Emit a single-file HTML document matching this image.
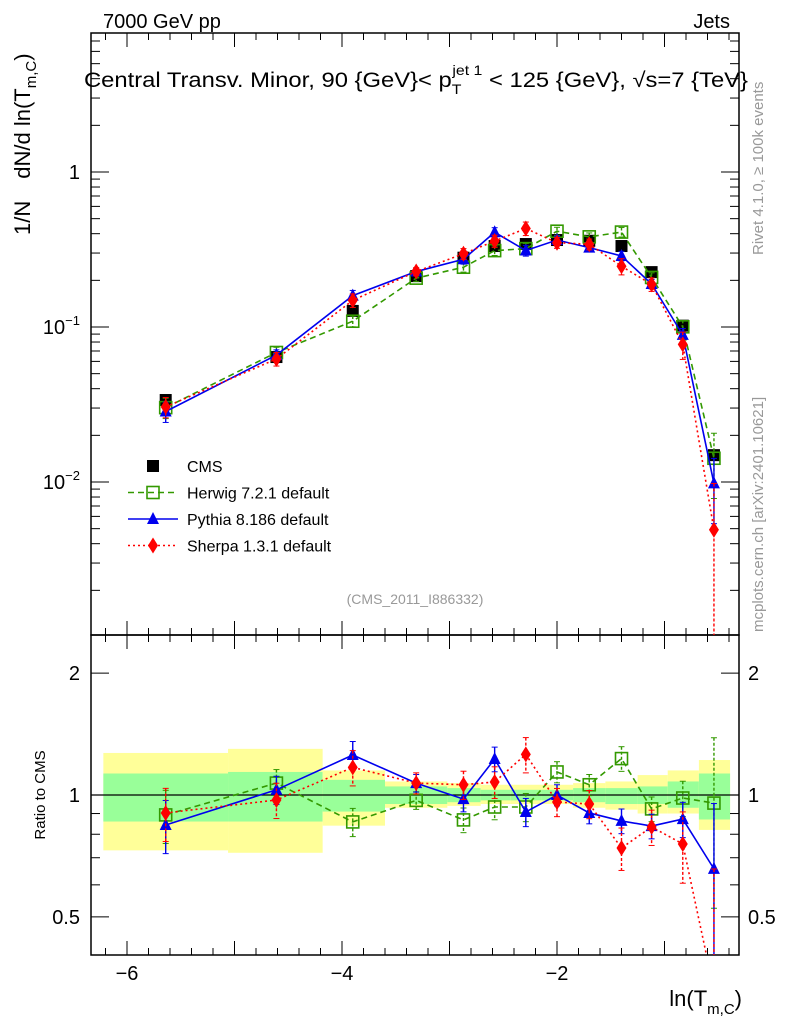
<!DOCTYPE html>
<html><head><meta charset="utf-8"><style>
html,body{margin:0;background:#fff;overflow:hidden;width:786px;height:1024px}
svg{display:block;font-family:"Liberation Sans",sans-serif}
</style></head><body>
<svg id="c" width="786" height="1024" viewBox="0 0 786 1024" xmlns="http://www.w3.org/2000/svg" overflow="hidden">
<text x="103" y="28" font-size="20">7000 GeV pp</text>
<text x="730" y="28" font-size="20" text-anchor="end">Jets</text>
<text x="84" y="87" font-size="21" textLength="664" lengthAdjust="spacingAndGlyphs">Central Transv. Minor, 90 {GeV}&lt; p<tspan dy="7" font-size="14">T</tspan><tspan dy="-19" dx="-8" font-size="14">jet 1</tspan><tspan dy="12"> &lt; 125 {GeV}, √s=7 {TeV}</tspan></text>
<text transform="translate(30,235) rotate(-90)" font-size="22">1/N<tspan dx="22">dN/d ln(T</tspan><tspan dy="6" font-size="15">m,C</tspan><tspan dy="-6">)</tspan></text>
<text transform="translate(763,255) rotate(-90)" font-size="15" fill="#999">Rivet 4.1.0, ≥ 100k events</text>
<text transform="translate(763,632) rotate(-90)" font-size="15" fill="#999">mcplots.cern.ch [arXiv:2401.10621]</text>
<text x="415" y="604" font-size="14" fill="#999" text-anchor="middle">(CMS_2011_I886332)</text>
<text transform="translate(45,795) rotate(-90)" font-size="15" text-anchor="middle">Ratio to CMS</text>
<text x="742" y="1006" font-size="22" text-anchor="end">ln(T<tspan dy="8" font-size="15">m,C</tspan><tspan dy="-8">)</tspan></text>
<g id="g"></g>
</svg>
<script>
const xs=[-5.64,-4.61,-3.90,-3.31,-2.87,-2.58,-2.29,-2.00,-1.70,-1.40,-1.12,-0.83,-0.54];
const edges=[-6.22,-5.06,-4.18,-3.60,-3.02,-2.71,-2.43,-2.14,-1.85,-1.55,-1.25,-0.97,-0.68,-0.39];
const cms=[0.0338,0.064,0.127,0.213,0.28,0.333,0.343,0.364,0.36,0.333,0.226,0.102,0.0149];
const herwigRatio=[0.893,1.07,0.858,0.97,0.868,0.934,0.934,1.14,1.06,1.23,0.924,0.983,0.955];
const pythiaRatio=[0.843,1.03,1.255,1.07,0.977,1.227,0.908,1.0,0.903,0.863,0.838,0.872,0.657];
const sherpaRatio=[0.903,0.972,1.17,1.07,1.06,1.077,1.26,0.961,0.95,0.74,0.834,0.757,0.33];
const modelErr=[0.15,0.08,0.08,0.05,0.07,0.07,0.08,0.06,0.06,0.07,0.07,0.1,0.45];
const sherpaErr=[0.15,0.1,0.1,0.06,0.08,0.09,0.1,0.08,0.08,0.12,0.1,0.2,0.99];
const yellowHi=[1.27,1.30,1.15,1.08,1.07,1.06,1.06,1.06,1.07,1.08,1.12,1.15,1.22];
const yellowLo=[0.73,0.72,0.84,0.93,0.94,0.95,0.95,0.95,0.93,0.92,0.90,0.90,0.82];
const greenHi=[1.13,1.14,1.09,1.05,1.04,1.03,1.03,1.03,1.04,1.04,1.05,1.08,1.13];
const greenLo=[0.86,0.86,0.91,0.95,0.96,0.97,0.97,0.97,0.96,0.95,0.95,0.93,0.87];
const xTicks=[-6,-4,-2];
const mainTicks=[1,0.1,0.01];
const ratioTicks=[[2,"2"],[1,"1"],[0.5,"0.5"]];

const L=91,R=739,T=33,MB=635,RB=955;
const X=v=>772+107.5*v;
const Ym=v=>172-155*Math.log10(v);
const Yr=v=>795-405*Math.log10(v);
const NS="http://www.w3.org/2000/svg";
const g=document.getElementById('g');
function mk(t,a,p){const e=document.createElementNS(NS,t);for(const k in a)e.setAttribute(k,a[k]);(p||g).appendChild(e);return e;}

for(let i=0;i<xs.length;i++){
 const x0=X(edges[i]),x1=X(edges[i+1]);
 let r=mk('rect',{x:x0,y:Yr(yellowHi[i]),width:x1-x0,height:Yr(yellowLo[i])-Yr(yellowHi[i]),fill:'#ffff99'});
 
 
 r=mk('rect',{x:x0,y:Yr(greenHi[i]),width:x1-x0,height:Yr(greenLo[i])-Yr(greenHi[i]),fill:'#99ff99'});
 
 
}
let ln=mk('line',{x1:L,x2:R,y1:Yr(1),y2:Yr(1),stroke:'#000','stroke-width':1.2});



let fr=mk('rect',{x:L,y:T,width:R-L,height:MB-T,fill:'none',stroke:'#000','stroke-width':1.5});


fr=mk('rect',{x:L,y:MB,width:R-L,height:RB-MB,fill:'none',stroke:'#000','stroke-width':1.5});



for(let v=-6.2;v<-0.3;v+=0.2){
 const vv=Math.round(v*10)/10, major=Math.abs(vv-Math.round(vv))<0.01;
 const len=major?14:7,x=X(vv);
 if(x<L||x>R)continue;
 [[T,1],[MB,-1],[MB,1],[RB,-1]].forEach(([y,d])=>mk('line',{x1:x,x2:x,y1:y,y2:y+d*len,stroke:'#000'}));
}
xTicks.forEach(v=>{const t=mk('text',{x:X(v),y:980,'font-size':20,'text-anchor':'middle'});t.textContent='−'+Math.abs(v);
 
 });
for(let d=-3;d<=0;d++)for(let m=1;m<10;m++){const v=m*Math.pow(10,d),y=Ym(v);if(y<T||y>MB)continue;
 const len=m==1?18:9;mk('line',{x1:L,x2:L+len,y1:y,y2:y,stroke:'#000'});mk('line',{x1:R,x2:R-len,y1:y,y2:y,stroke:'#000'});}
mainTicks.forEach(v=>{const t=mk('text',{x:80,y:Ym(v)+7,'font-size':20,'text-anchor':'end'});
 if(v==1)t.textContent='1';else{t.textContent='10';const sp=mk('tspan',{dy:-9,'font-size':13},t);sp.textContent=v==0.1?'−1':'−2';}
 
 });
[0.5,0.6,0.7,0.8,0.9,1,2].forEach(v=>{const y=Yr(v),len=(v==1||v==2||v==0.5)?18:9;
 mk('line',{x1:L,x2:L+len,y1:y,y2:y,stroke:'#000'});mk('line',{x1:R,x2:R-len,y1:y,y2:y,stroke:'#000'});});
ratioTicks.forEach(([v,s])=>{[[80,'end'],[748,'start']].forEach(([x,a])=>{const t=mk('text',{x:x,y:Yr(v)+7,'font-size':20,'text-anchor':a});t.textContent=s;
 
 });});

const series=[
 {n:'herwig',r:herwigRatio,e:modelErr,c:'#339900',dash:'6,4',m:'sq'},
 {n:'pythia',r:pythiaRatio,e:modelErr,c:'#0000ee',dash:'',m:'tri'},
 {n:'sherpa',r:sherpaRatio,e:sherpaErr,c:'#ff0000',dash:'2,3',m:'dia'}];
function marker(m,x,y,c,p){
 if(m=='sq')return mk('rect',{x:x-6,y:y-6,width:12,height:12,fill:'none',stroke:c,'stroke-width':1.6},p);
 if(m=='tri')return mk('polygon',{points:`${x},${y-7} ${x-6},${y+5} ${x+6},${y+5}`,fill:c},p);
 if(m=='dia')return mk('polygon',{points:`${x},${y-8} ${x-5},${y} ${x},${y+8} ${x+5},${y}`,fill:c},p);
 return mk('rect',{x:x-6,y:y-6,width:12,height:12,fill:c},p);
}
function clip(y,top,bot){return Math.max(top,Math.min(bot,y));}
const cg=mk('g',{});


cms.forEach((v,i)=>{const e=marker('cms',X(xs[i]),Ym(v),'#000',cg);
 
 });
series.forEach(s=>{
 for(const [panel,Y,top,bot] of [['main',Ym,T,MB],['ratio',Yr,MB,RB]]){
  const gg=mk('g',{});
  
  
  const vals=s.r.map((r,i)=>panel=='main'?r*cms[i]:r);
  const pts=vals.map((v,i)=>X(xs[i])+','+clip(Y(v),top,bot+40)).join(' ');
  const cp='clip-'+s.n+panel;
  const cl=mk('clipPath',{id:cp},gg);mk('rect',{x:L,y:top,width:R-L,height:bot-top},cl);
  const inner=mk('g',{'clip-path':`url(#${cp})`},gg);
  mk('polyline',{points:pts,fill:'none',stroke:s.c,'stroke-width':1.6,'stroke-dasharray':s.dash},inner);
  vals.forEach((v,i)=>{const x=X(xs[i]),e=s.e[i];
   const y1=clip(Y(v*(1+e)),top-5,bot+5),y2=clip(Y(Math.max(v*(1-e),1e-6)),top-5,bot+5);
   mk('line',{x1:x,x2:x,y1:y1,y2:y2,stroke:s.c,'stroke-width':1.4,'stroke-dasharray':s.dash?'3,2':''},inner);
   mk('line',{x1:x-3,x2:x+3,y1:y1,y2:y1,stroke:s.c},inner);mk('line',{x1:x-3,x2:x+3,y1:y2,y2:y2,stroke:s.c},inner);
   const p=marker(s.m,x,clip(Y(v),top-20,bot+20),s.c,inner);
   
   
  });
 }
});
const legend=[['CMS','cms','#000',''],['Herwig 7.2.1 default','sq','#339900','6,4'],['Pythia 8.186 default','tri','#0000ee',''],['Sherpa 1.3.1 default','dia','#ff0000','2,3']];
legend.forEach(([t,m,c,d],i)=>{const y=466+i*26.5;const lg=mk('g',{});
 
 
 if(m!='cms')mk('line',{x1:128,x2:178,y1:y,y2:y,stroke:c,'stroke-width':1.6,'stroke-dasharray':d},lg);
 marker(m,153,y,c,lg);
 const tx=mk('text',{x:187,y:y+6,'font-size':16},lg);tx.textContent=t;});
</script>
</body></html>
